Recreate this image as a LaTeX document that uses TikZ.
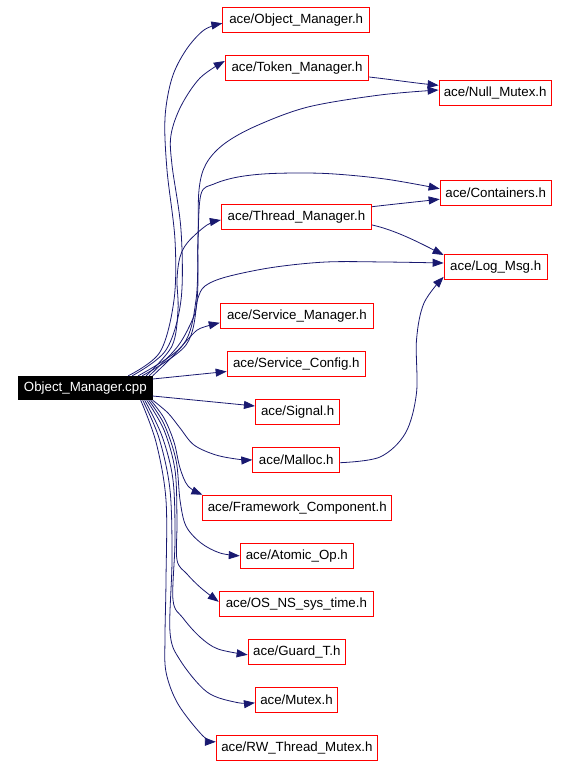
\documentclass[tikz,border=0pt]{standalone}
\usepackage{fontspec}
\setmainfont{Liberation Sans}
\usetikzlibrary{arrows.meta}
\definecolor{edgeblue}{HTML}{191970}
\begin{document}
\begin{tikzpicture}[x=1pt,y=-1pt,
  file/.style={draw=red, fill=white, line width=0.9pt, inner sep=0pt, minimum height=25pt, font=\fontsize{13.3}{16}\selectfont},
  rootnode/.style={fill=black, text=white, inner sep=0pt, minimum height=24pt, font=\fontsize{13.3}{16}\selectfont},
  dep/.style={draw=edgeblue, line width=0.8pt, -{Triangle[length=11pt,width=8pt,fill=edgeblue]}}]
\useasboundingbox (0,0) rectangle (568,766);
% nodes
\node[rootnode, minimum width=134.4pt] (cpp) at (85.3,388) {Object\_Manager.cpp};
\node[file, minimum width=146.7pt] (om) at (296.2,19.8) {ace/Object\_Manager.h};
\node[file, minimum width=143.5pt] (tm) at (297,68) {ace/Token\_Manager.h};
\node[file, minimum width=112.3pt] (nm) at (495.2,93.3) {ace/Null\_Mutex.h};
\node[file, minimum width=111.2pt] (ct) at (495.7,193.2) {ace/Containers.h};
\node[file, minimum width=150.4pt] (thm) at (296.5,217.3) {ace/Thread\_Manager.h};
\node[file, minimum width=103.2pt] (lm) at (495.7,266.8) {ace/Log\_Msg.h};
\node[file, minimum width=153.3pt] (sm) at (296.9,315.8) {ace/Service\_Manager.h};
\node[file, minimum width=138.4pt] (sc) at (296.3,364) {ace/Service\_Config.h};
\node[file, minimum width=84.4pt] (sig) at (297.6,411.8) {ace/Signal.h};
\node[file, minimum width=87pt] (mal) at (296.3,459.8) {ace/Malloc.h};
\node[file, minimum width=188.7pt] (fc) at (297.25,507.7) {ace/Framework\_Component.h};
\node[file, minimum width=113.3pt] (ao) at (296.85,555.8) {ace/Atomic\_Op.h};
\node[file, minimum width=154.3pt] (os) at (296.35,603.8) {ace/OS\_NS\_sys\_time.h};
\node[file, minimum width=97.5pt] (gt) at (296.85,651.8) {ace/Guard\_T.h};
\node[file, minimum width=82.2pt] (mx) at (296.5,699.8) {ace/Mutex.h};
\node[file, minimum width=161.2pt] (rw) at (296.9,747.8) {ace/RW\_Thread\_Mutex.h};
% edges from root, upward
\draw[dep] plot[smooth, tension=0.55] coordinates {([xshift=-24.5pt]cpp.north east) (160,352) (174,300) (175,240) (167,170) (165,118) (172,78) (186,50) (204,30) ([yshift=-3.5pt]om.west)};
\draw[dep] plot[smooth, tension=0.55] coordinates {([xshift=-20.5pt]cpp.north east) (166,350) (181,300) (181,230) (172,165) (171,135) (181,106) (200,78) ([yshift=7pt]tm.west)};
\draw[dep] plot[smooth, tension=0.55] coordinates {([xshift=-14.5pt]cpp.north east) (183,345) (196,300) (198,240) (199,190) (206,164) (224,144) (256,126) (308,107) (380,95) ([yshift=3.3pt]nm.west)};
\draw[dep] plot[smooth, tension=0.55] coordinates {([xshift=-10.5pt]cpp.north east) (186,345) (197,300) (198,240) (201,194) (214,184) (238,177) (272,173.5) (326,173.5) (385,179) ([yshift=4.5pt]ct.west)};
\draw[dep] plot[smooth, tension=0.55] coordinates {([xshift=-6.5pt]cpp.north east) (172,346) (178,310) (177,280) (180,257) (188,242) (207,225) ([yshift=-2.7pt]thm.west)};
\draw[dep] plot[smooth, tension=0.55] coordinates {([xshift=-3.5pt]cpp.north east) (178,346) (194,316) (198,298) (205,286) (226,277) (272,267.5) (326,262) (385,262) ([yshift=3.8pt]lm.west)};
\draw[dep] plot[smooth, tension=0.55] coordinates {(cpp.north east) (172,357) (190,337) (200,328.5) ([yshift=-7pt]sm.west)};
\draw[dep] ([yshift=9pt]cpp.east) -- ([yshift=-7.5pt]sc.west);
\draw[dep] ([yshift=-8pt]cpp.east) -- ([yshift=5.8pt]sig.west);
% edges from root, downward
\draw[dep] plot[smooth, tension=0.55] coordinates {(cpp.south east) (168,413) (180,428) (194,445) (216,455) (240,459.5) (mal.west)};
\draw[dep] plot[smooth, tension=0.55] coordinates {([xshift=-2pt]cpp.south east) (164,418) (174,442) (180,468) (188,486) (fc.north west)};
\draw[dep] plot[smooth, tension=0.55] coordinates {([xshift=-4pt]cpp.south east) (164,424) (176,460) (180,500) (186,526) (201,543) (220,553) (ao.west)};
\draw[dep] plot[smooth, tension=0.55] coordinates {([xshift=-6pt]cpp.south east) (164,430) (175,470) (177,520) (177,560) (187,574) (201,588) ([yshift=2pt]os.west)};
\draw[dep] plot[smooth, tension=0.55] coordinates {([xshift=-8pt]cpp.south east) (162,436) (173,480) (175,540) (173,600) (183,618) (200,637) (218,649) ([yshift=-3pt]gt.west)};
\draw[dep] plot[smooth, tension=0.55] coordinates {([xshift=-10pt]cpp.south east) (159,438) (170,490) (172,560) (170,632) (180,660) (207,692) (237,702.5) ([yshift=-3pt]mx.west)};
\draw[dep] plot[smooth, tension=0.55] coordinates {([xshift=-12pt]cpp.south east) (156,442) (166,500) (166,580) (165,637) (166,672) (178,704) (203,736) ([yshift=6pt]rw.west)};
% other edges
\draw[dep] ([yshift=-9pt]tm.east) .. controls (395,80) and (415,83) .. ([yshift=8pt]nm.west);
\draw[dep] ([yshift=10.6pt]thm.east) .. controls (395,204) and (415,202) .. ([yshift=-6pt]ct.west);
\draw[dep] ([yshift=-7.7pt]thm.east) .. controls (395,230) and (420,243) .. ([yshift=11.8pt]lm.west);
\draw[dep] plot[smooth, tension=0.55] coordinates {([yshift=-2.9pt]mal.east) (380,457) (405.5,433) (416.5,393) (416.5,340) (424,303) ([yshift=-10pt]lm.west)};
\end{tikzpicture}
\end{document}
